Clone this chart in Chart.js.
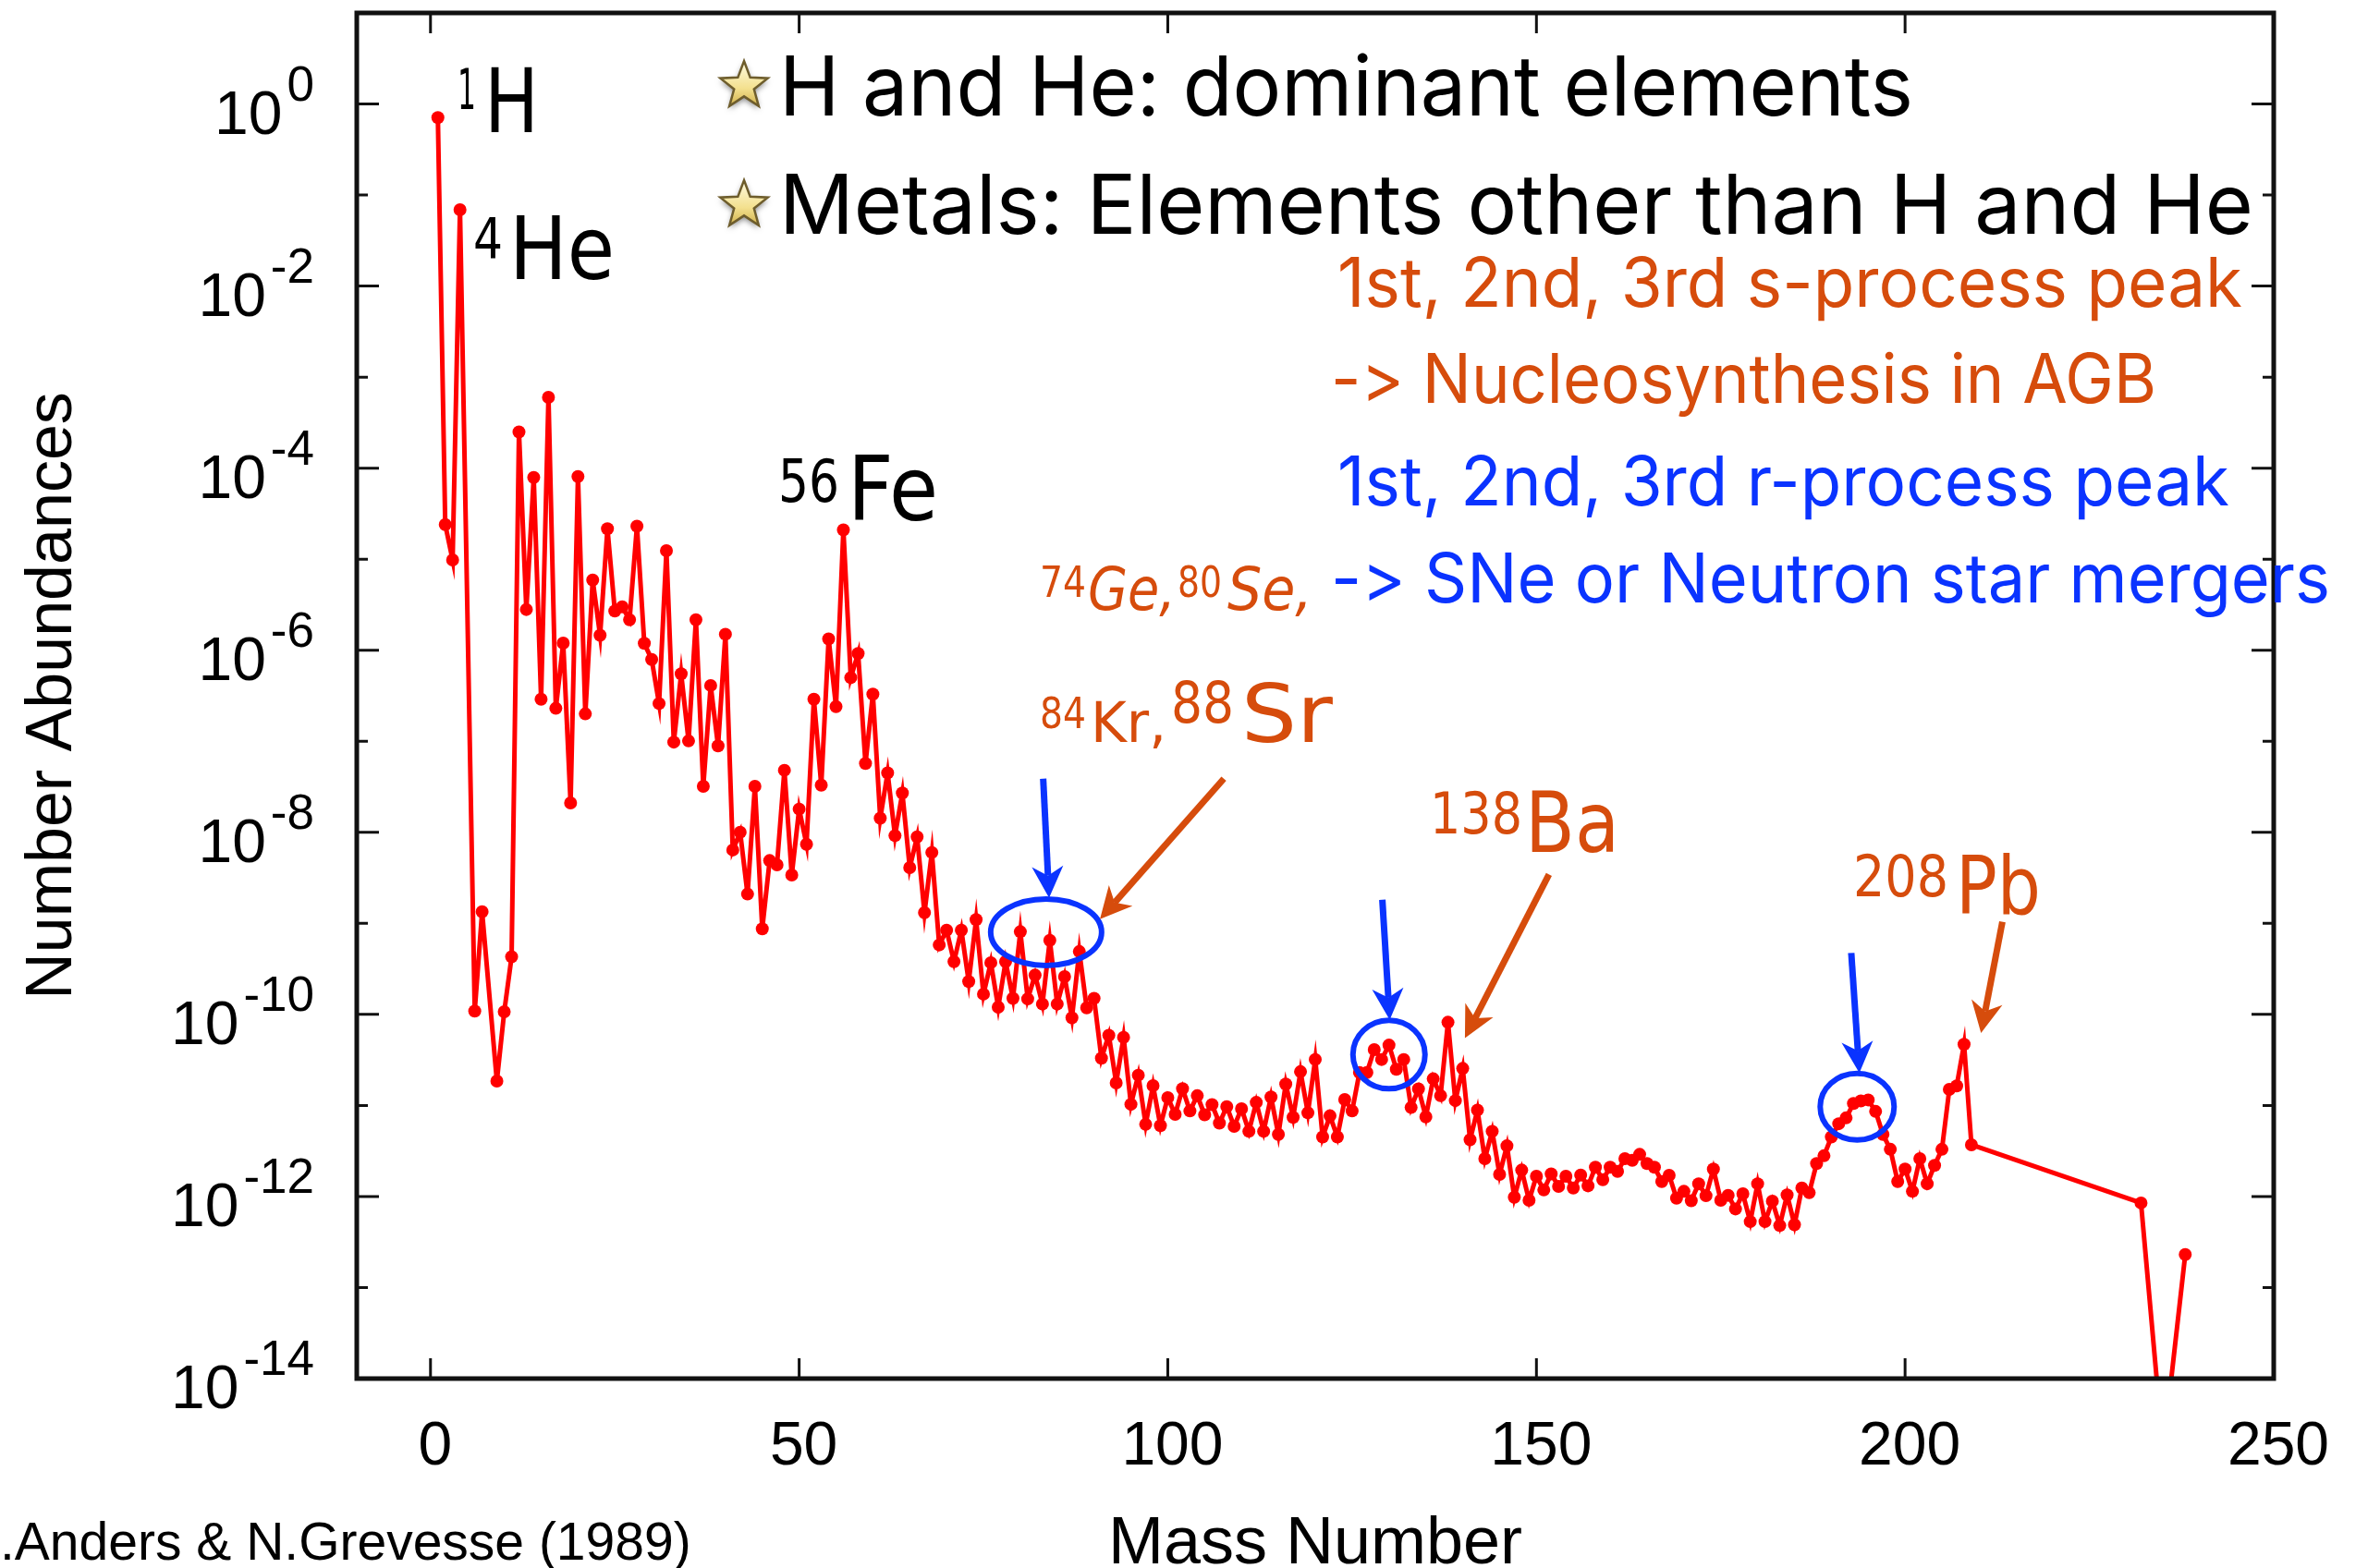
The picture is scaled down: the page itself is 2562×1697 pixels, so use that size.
<!DOCTYPE html>
<html>
<head>
<meta charset="utf-8">
<title>Solar system abundances</title>
<script src="https://cdn.jsdelivr.net/npm/chart.js@4/dist/chart.umd.min.js"></script>
<style>
  html, body { margin: 0; padding: 0; background: #fff; }
  #abundances { display: block; }
</style>
</head>
<body>
<canvas id="abundances" width="2562" height="1697"></canvas>
<script>
"use strict";

// mass numbers that carry a stable (or long lived) isotope
var massNumbers = [
    1, 2, 3, 4, 6, 7, 9, 10, 11,
    12, 13, 14, 15, 16, 17, 18, 19, 20, 21, 22, 23, 24, 25, 26, 27, 28, 29, 30, 31,
    32, 33, 34, 35, 36, 37, 38, 39, 40, 41, 42, 43, 44, 45, 46, 47, 48, 49, 50, 51,
    52, 53, 54, 55, 56, 57, 58, 59, 60, 61, 62, 63, 64, 65, 66, 67, 68, 69, 70, 71,
    72, 73, 74, 75, 76, 77, 78, 79, 80, 81, 82, 83, 84, 85, 86, 87, 88, 89, 90, 91,
    92, 93, 94, 95, 96, 97, 98, 99, 100, 101, 102, 103, 104, 105, 106, 107, 108, 109, 110, 111,
    112, 113, 114, 115, 116, 117, 118, 119, 120, 121, 122, 123, 124, 125, 126, 127, 128, 129, 130, 131,
    132, 133, 134, 135, 136, 137, 138, 139, 140, 141, 142, 143, 144, 145, 146, 147, 148, 149, 150, 151,
    152, 153, 154, 155, 156, 157, 158, 159, 160, 161, 162, 163, 164, 165, 166, 167, 168, 169, 170, 171,
    172, 173, 174, 175, 176, 177, 178, 179, 180, 181, 182, 183, 184, 185, 186, 187, 188, 189, 190, 191,
    192, 193, 194, 195, 196, 197, 198, 199, 200, 201, 202, 203, 204, 205, 206, 207, 208, 209,
    232, 235, 238
];

// number abundances, split by region of the curve
var lightAbund = [7.1e-1, 2.4e-5, 9.8e-6, 6.9e-2, 1.09e-10, 1.34e-9, 1.85e-11, 1.07e-10, 4.3e-10];

var cnoToCaAbund = [
    2.5e-4, 2.8e-6, 7.9e-5, 2.9e-7, 6.0e-4, 2.3e-7, 1.2e-6, 2.1e-8, 8.1e-5, 2.0e-7,
    5.9e-6, 1.46e-6, 2.16e-5, 2.7e-6, 3.0e-6, 2.16e-6, 2.3e-5, 1.19e-6, 7.9e-7, 2.6e-7,
    1.24e-5, 9.8e-8, 5.5e-7, 1.01e-7, 2.16e-6, 3.2e-8, 4.1e-7, 8.9e-8, 1.5e-6
];

var ironGroupAbund = [
    6.4e-9, 1.0e-8, 2.1e-9, 3.2e-8, 8.7e-10, 4.9e-9, 4.4e-9, 4.8e-8, 3.4e-9, 1.8e-8,
    7.4e-9, 2.9e-7, 3.3e-8, 1.33e-6, 2.4e-7, 2.1e-5, 5.0e-7, 9.2e-7, 5.7e-8, 3.3e-7,
    1.43e-8, 4.5e-8, 9.2e-9, 2.7e-8, 4.1e-9, 8.9e-9, 1.31e-9, 6.0e-9, 5.8e-10, 8.4e-10,
    3.8e-10, 8.4e-10, 2.3e-10, 1.1e-9, 1.67e-10, 3.7e-10, 1.2e-10, 3.8e-10, 1.5e-10, 8.1e-10,
    1.48e-10, 2.7e-10, 1.3e-10, 6.5e-10, 1.3e-10, 2.6e-10, 9.2e-11, 4.9e-10, 1.18e-10, 1.5e-10
];

var midMassAbund = [
    3.3e-11, 5.9e-11, 1.77e-11, 5.6e-11, 1.03e-11, 2.15e-11, 6.2e-12, 1.65e-11, 6.0e-12, 1.22e-11,
    8.0e-12, 1.53e-11, 8.7e-12, 1.28e-11, 7.9e-12, 1.02e-11, 6.4e-12, 9.7e-12, 5.9e-12, 9.2e-12,
    5.2e-12, 1.08e-11, 5.2e-12, 1.24e-11, 4.8e-12, 1.72e-11, 7.4e-12, 2.35e-11, 8.3e-12, 3.2e-11,
    4.5e-12, 7.7e-12, 4.5e-12, 1.16e-11, 8.7e-12, 2.3e-11, 2.3e-11, 4.1e-11, 3.2e-11, 4.6e-11,
    2.5e-11, 3.2e-11, 9.5e-12, 1.52e-11, 7.5e-12, 1.96e-11, 1.28e-11, 8.2e-11, 1.13e-11, 2.55e-11
];

var heavyAbund = [
    4.2e-12, 8.9e-12, 2.6e-12, 5.2e-12, 1.75e-12, 3.6e-12, 9.8e-13, 1.95e-12, 9.1e-13, 1.67e-12,
    1.18e-12, 1.77e-12, 1.29e-12, 1.67e-12, 1.24e-12, 1.72e-12, 1.31e-12, 2.1e-12, 1.53e-12, 2.1e-12,
    1.89e-12, 2.6e-12, 2.5e-12, 2.9e-12, 2.3e-12, 2.1e-12, 1.46e-12, 1.71e-12, 9.6e-13, 1.14e-12,
    9.0e-13, 1.38e-12, 1.02e-12, 2.0e-12, 9.1e-13, 1.03e-12, 7.3e-13, 1.07e-12, 5.3e-13, 1.38e-12,
    5.3e-13, 8.9e-13, 4.8e-13, 1.04e-12, 4.9e-13, 1.24e-12, 1.10e-12, 2.3e-12, 2.8e-12, 4.5e-12,
    6.3e-12, 7.3e-12, 1.05e-11, 1.12e-11, 1.15e-11, 8.6e-12, 4.8e-12, 3.3e-12, 1.46e-12, 2.0e-12,
    1.14e-12, 2.6e-12, 1.38e-12, 2.2e-12, 3.3e-12, 1.5e-11, 1.64e-11, 4.7e-11, 3.7e-12
];

var actinideAbund = [8.5e-13, 1.6e-15, 2.3e-13];

var xTicks = [0, 50, 100, 150, 200, 250];
var yExponents = [0, -2, -4, -6, -8, -10, -12, -14];

var ORANGE = '#d64c0c';
var BLUE = '#0a33ff';

// circled peaks and arrows, placed in data units (mass number, abundance)
var peakRings = [
    { a: 83.5, v: 8.0e-10, rx: 60, ry: 36 },
    { a: 130.0, v: 3.62e-11, rx: 39, ry: 37 },
    { a: 193.5, v: 9.7e-12, rx: 40, ry: 36 }
];

var arrows = [
    { from: [83.1, 3.88e-8], to: [83.9, 1.91e-9], color: BLUE },
    { from: [107.6, 3.88e-8], to: [90.8, 1.11e-9], color: ORANGE },
    { from: [129.1, 1.82e-9], to: [130.1, 8.7e-11], color: BLUE },
    { from: [151.7, 3.44e-9], to: [140.3, 5.5e-11], color: ORANGE },
    { from: [192.7, 4.73e-10], to: [193.8, 2.27e-11], color: BLUE },
    { from: [213.2, 1.04e-9], to: [210.3, 6.25e-11], color: ORANGE }
];

// text on the plot: each entry is a run of glyphs fitted to a width
var headlines = [
    { t: 'H and He: dominant elements', x: 843, y: 125, size: 90, w: 1227, color: '#000' },
    { t: 'Metals: Elements other than H and He', x: 843, y: 253, size: 90, w: 1595, color: '#000' },
    { t: '1st, 2nd, 3rd s-process peak', x: 1447, y: 332, size: 74, w: 979, color: ORANGE },
    { t: '-> Nucleosynthesis in AGB', x: 1440, y: 436, size: 74, w: 893, color: ORANGE },
    { t: '1st, 2nd, 3rd r-process peak', x: 1447, y: 547, size: 74, w: 965, color: BLUE },
    { t: '-> SNe or Neutron star mergers', x: 1440, y: 652, size: 74, w: 1081, color: BLUE }
];

var isotopeLabels = [
    { t: '1', x: 495, y: 118, size: 60, w: 20, color: '#000' },
    { t: 'H', x: 524, y: 143, size: 97, w: 59, color: '#000' },
    { t: '4', x: 512, y: 279, size: 60, w: 32, color: '#000' },
    { t: 'He', x: 551, y: 302, size: 95, w: 114, color: '#000' },
    { t: '56', x: 842, y: 543, size: 64, w: 66, color: '#000' },
    { t: 'Fe', x: 917, y: 563, size: 97, w: 98, color: '#000' },
    { t: '74', x: 1125, y: 646, size: 46, w: 50, color: ORANGE },
    { t: 'Ge,', x: 1177, y: 660, size: 64, w: 95, color: ORANGE, italic: true },
    { t: '80', x: 1274, y: 646, size: 46, w: 48, color: ORANGE },
    { t: 'Se,', x: 1328, y: 660, size: 64, w: 92, color: ORANGE, italic: true },
    { t: '84', x: 1125, y: 788, size: 46, w: 50, color: ORANGE },
    { t: 'Kr,', x: 1180, y: 803, size: 60, w: 82, color: ORANGE },
    { t: '88', x: 1267, y: 782, size: 62, w: 68, color: ORANGE },
    { t: 'Sr', x: 1343, y: 803, size: 88, w: 99, color: ORANGE },
    { t: '138', x: 1547, y: 902, size: 62, w: 100, color: ORANGE },
    { t: 'Ba', x: 1650, y: 922, size: 90, w: 102, color: ORANGE },
    { t: '208', x: 2005, y: 970, size: 62, w: 103, color: ORANGE },
    { t: 'Pb', x: 2116, y: 989, size: 88, w: 92, color: ORANGE }
];

var AXIS_FONT = '"Liberation Sans", Arial, Helvetica, sans-serif';
var NOTE_FONT = 'Inter, "Noto Sans", sans-serif';
var HAND_FONT = '"DejaVu Sans", "Noto Sans", sans-serif';

var abundances = lightAbund.concat(cnoToCaAbund, ironGroupAbund, midMassAbund, heavyAbund, actinideAbund);
var points = massNumbers.map(function (a, i) {
    return { x: a, y: abundances[i] };
});

// draws a run of text squeezed/stretched to its width; "->" is drawn as two
// separate glyphs so the font does not swap it for an arrow ligature
function fitText(ctx, run, family) {
    ctx.save();
    ctx.font = (run.italic ? 'italic ' : '') + run.size + 'px ' + family;
    ctx.textAlign = 'left';
    ctx.textBaseline = 'alphabetic';
    var parts = run.t.indexOf('->') === 0 ? ['-', '>', run.t.slice(2)] : [run.t];
    var widths = parts.map(function (p) { return ctx.measureText(p).width; });
    var total = widths.reduce(function (s, w) { return s + w; }, 0);
    ctx.translate(run.x, run.y);
    if (run.w) ctx.scale(run.w / total, 1);
    ctx.fillStyle = run.color;
    var cx = 0;
    parts.forEach(function (p, i) {
        ctx.fillText(p, cx, 0);
        cx += widths[i];
    });
    ctx.restore();
}

function drawStar(ctx, cx, cy, r) {
    ctx.save();
    ctx.beginPath();
    for (var i = 0; i < 10; i++) {
        var rad = i % 2 ? r * 0.42 : r;
        var ang = -Math.PI / 2 + i * Math.PI / 5;
        ctx.lineTo(cx + rad * Math.cos(ang), cy + rad * Math.sin(ang));
    }
    ctx.closePath();
    var g = ctx.createLinearGradient(cx, cy - r, cx, cy + r);
    g.addColorStop(0, '#fffbe2');
    g.addColorStop(0.55, '#f3e08e');
    g.addColorStop(1, '#c9a63c');
    ctx.shadowColor = 'rgba(0,0,0,0.5)';
    ctx.shadowBlur = 6;
    ctx.shadowOffsetY = 3;
    ctx.fillStyle = g;
    ctx.fill();
    ctx.shadowColor = 'transparent';
    ctx.strokeStyle = '#6e5d2c';
    ctx.lineWidth = 2.5;
    ctx.stroke();
    ctx.restore();
}

function drawArrow(ctx, x0, y0, x1, y1, color) {
    var dx = x1 - x0, dy = y1 - y0;
    var len = Math.sqrt(dx * dx + dy * dy);
    var ux = dx / len, uy = dy / len;
    var px = -uy, py = ux;
    var headLen = 34, halfW = 17, notch = 10;
    ctx.save();
    ctx.strokeStyle = color;
    ctx.fillStyle = color;
    ctx.lineWidth = 7;
    ctx.beginPath();
    ctx.moveTo(x0, y0);
    ctx.lineTo(x1 - ux * (headLen - notch), y1 - uy * (headLen - notch));
    ctx.stroke();
    var bx = x1 - ux * headLen, by = y1 - uy * headLen;
    ctx.beginPath();
    ctx.moveTo(x1, y1);
    ctx.lineTo(bx + px * halfW, by + py * halfW);
    ctx.lineTo(x1 - ux * (headLen - notch), y1 - uy * (headLen - notch));
    ctx.lineTo(bx - px * halfW, by - py * halfW);
    ctx.closePath();
    ctx.fill();
    ctx.restore();
}

// frame, inward ticks, tick labels, titles and the notes on top of the curve
var decorations = {
    id: 'decorations',
    afterDatasetsDraw: function (chart) {
        var ctx = chart.ctx;
        var area = chart.chartArea;
        var xs = chart.scales.x, ys = chart.scales.y;

        ctx.save();
        ctx.strokeStyle = '#111';

        // y ticks every decade, long on the labelled ones
        ctx.lineWidth = 3;
        for (var k = 0; k >= -13; k--) {
            var py = ys.getPixelForValue(Math.pow(10, k));
            var tl = (k % 2 === 0) ? 24 : 12;
            ctx.beginPath();
            ctx.moveTo(area.left, py); ctx.lineTo(area.left + tl, py);
            ctx.moveTo(area.right, py); ctx.lineTo(area.right - tl, py);
            ctx.stroke();
        }
        xTicks.forEach(function (v) {
            var px = xs.getPixelForValue(v);
            ctx.beginPath();
            ctx.moveTo(px, area.bottom); ctx.lineTo(px, area.bottom - 22);
            ctx.moveTo(px, area.top); ctx.lineTo(px, area.top + 22);
            ctx.stroke();
        });

        ctx.lineWidth = 5;
        ctx.strokeRect(area.left, area.top, area.right - area.left, area.bottom - area.top);

        // tick labels
        ctx.fillStyle = '#000';
        ctx.textBaseline = 'alphabetic';
        yExponents.forEach(function (e) {
            var py = ys.getPixelForValue(Math.pow(10, e));
            var right = area.left - 46;
            var sup = e === 0 ? '0' : '-' + (-e);
            ctx.font = '53px ' + AXIS_FONT;
            ctx.textAlign = 'right';
            var supW = ctx.measureText(sup).width;
            ctx.fillText(sup, right, py - 4);
            ctx.font = '66px ' + AXIS_FONT;
            ctx.fillText('10', right - supW - 5, py + 32);
        });
        ctx.font = '66px ' + AXIS_FONT;
        ctx.textAlign = 'center';
        xTicks.forEach(function (v) {
            ctx.fillText(String(v), xs.getPixelForValue(v) + 5, area.bottom + 93);
        });

        // axis titles and source
        ctx.font = '72px ' + AXIS_FONT;
        ctx.fillText('Mass Number', (area.left + area.right) / 2, 1692);
        ctx.save();
        ctx.translate(77, (area.top + area.bottom) / 2);
        ctx.rotate(-Math.PI / 2);
        ctx.font = '70px ' + AXIS_FONT;
        ctx.fillText('Number Abundances', 0, 0);
        ctx.restore();
        ctx.textAlign = 'left';
        ctx.font = '57px ' + AXIS_FONT;
        ctx.fillText('.Anders & N.Grevesse (1989)', 0, 1688);

        // notes
        drawStar(ctx, 805, 93, 27);
        drawStar(ctx, 805, 222, 27);
        headlines.forEach(function (run) { fitText(ctx, run, NOTE_FONT); });
        isotopeLabels.forEach(function (run) { fitText(ctx, run, HAND_FONT); });

        ctx.lineWidth = 6;
        ctx.strokeStyle = BLUE;
        peakRings.forEach(function (r) {
            ctx.beginPath();
            ctx.ellipse(xs.getPixelForValue(r.a), ys.getPixelForValue(r.v), r.rx, r.ry, 0, 0, Math.PI * 2);
            ctx.stroke();
        });
        arrows.forEach(function (ar) {
            drawArrow(ctx,
                xs.getPixelForValue(ar.from[0]), ys.getPixelForValue(ar.from[1]),
                xs.getPixelForValue(ar.to[0]), ys.getPixelForValue(ar.to[1]),
                ar.color);
        });
        ctx.restore();
    }
};

var chart = new Chart(document.getElementById('abundances').getContext('2d'), {
    type: 'line',
    data: {
        datasets: [{
            label: 'Number abundance',
            data: points,
            borderColor: '#ff0000',
            backgroundColor: '#ff0000',
            pointBackgroundColor: '#ff0000',
            pointBorderColor: '#ff0000',
            borderWidth: 5,
            pointRadius: 7,
            pointBorderWidth: 0,
            tension: 0
        }]
    },
    options: {
        responsive: false,
        animation: false,
        devicePixelRatio: 1,
        layout: { padding: { left: 386, top: 14, right: 102, bottom: 205 } },
        plugins: {
            legend: { display: false },
            tooltip: { enabled: false }
        },
        scales: {
            x: { type: 'linear', min: -10, max: 250, display: false },
            y: { type: 'logarithmic', min: 1e-14, max: 10, display: false }
        }
    },
    plugins: [decorations]
});
</script>
</body>
</html>
